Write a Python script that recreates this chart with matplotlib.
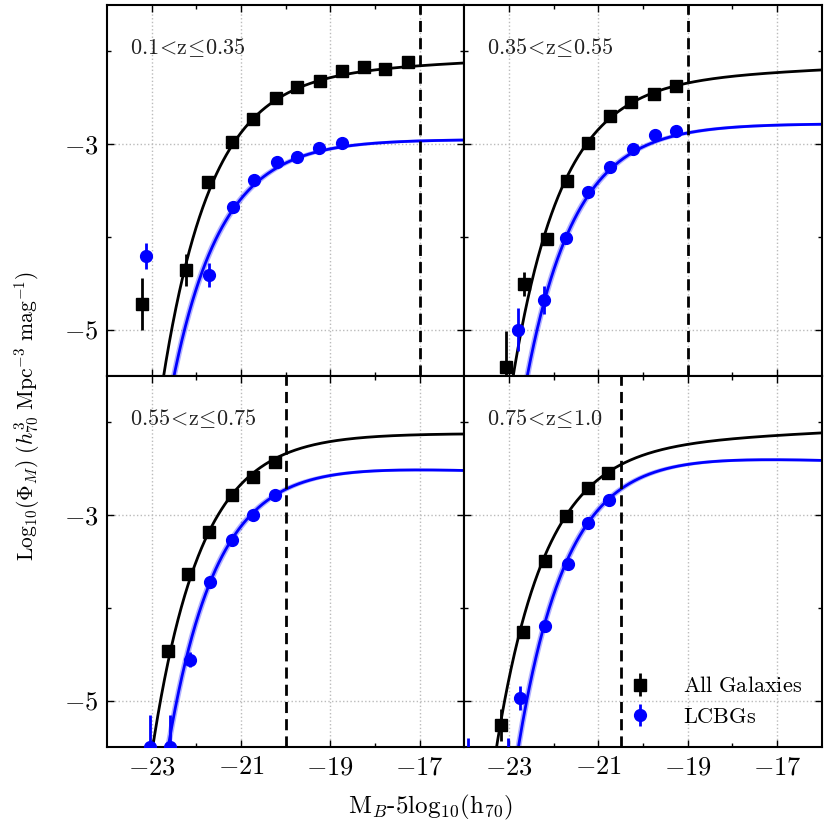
import numpy as np
import matplotlib
matplotlib.use('Agg')
import matplotlib.pyplot as plt

plt.rcParams['font.family'] = 'serif'
plt.rcParams['font.serif'] = ['cmr10', 'DejaVu Serif']
plt.rcParams['mathtext.fontset'] = 'cm'
plt.rcParams['axes.formatter.use_mathtext'] = True

# ---- data (M_B, log10 Phi, error) ----
# 0.1 < z <= 0.35
p1_all_mag = [-23.22, -22.23, -21.73, -21.21, -20.73, -20.21, -19.74, -19.24, -18.74, -18.25, -17.77, -17.26]
p1_all_phi = [-4.72, -4.36, -3.41, -2.98, -2.73, -2.50, -2.38, -2.32, -2.21, -2.17, -2.19, -2.11]
p1_all_err = [0.28, 0.17, 0.03, 0.03, 0.02, 0.02, 0.02, 0.02, 0.02, 0.02, 0.02, 0.02]
p1_lcbg_mag = [-23.13, -21.71, -21.19, -20.70, -20.19, -19.75, -19.26, -18.74]
p1_lcbg_phi = [-4.21, -4.41, -3.68, -3.39, -3.19, -3.14, -3.04, -2.99]
p1_lcbg_err = [0.14, 0.13, 0.05, 0.03, 0.03, 0.02, 0.02, 0.02]

# 0.35 < z <= 0.55
p2_all_mag = [-23.06, -22.66, -22.16, -21.71, -21.23, -20.74, -20.26, -19.75, -19.26]
p2_all_phi = [-5.40, -4.51, -4.02, -3.40, -2.99, -2.70, -2.55, -2.46, -2.37]
p2_all_err = [0.38, 0.13, 0.05, 0.03, 0.02, 0.02, 0.02, 0.02, 0.02]
p2_lcbg_mag = [-22.80, -22.22, -21.73, -21.23, -20.74, -20.23, -19.73, -19.27]
p2_lcbg_phi = [-5.00, -4.68, -4.01, -3.52, -3.25, -3.05, -2.90, -2.86]
p2_lcbg_err = [0.23, 0.15, 0.04, 0.03, 0.02, 0.02, 0.02, 0.02]

# 0.55 < z <= 0.75
p3_all_mag = [-22.63, -22.19, -21.71, -21.21, -20.74, -20.23]
p3_all_phi = [-4.46, -3.63, -3.18, -2.78, -2.59, -2.43]
p3_all_err = [0.05, 0.03, 0.02, 0.02, 0.02, 0.02]
p3_lcbg_mag = [-23.03, -22.60, -22.15, -21.69, -21.21, -20.74, -20.23]
p3_lcbg_phi = [-5.50, -5.50, -4.56, -3.72, -3.27, -3.00, -2.78]
p3_lcbg_err = [0.35, 0.35, 0.08, 0.03, 0.02, 0.02, 0.02]

# 0.75 < z <= 1.0
p4_all_mag = [-23.19, -22.69, -22.20, -21.73, -21.23, -20.78]
p4_all_phi = [-5.26, -4.26, -3.49, -3.01, -2.71, -2.55]
p4_all_err = [0.17, 0.05, 0.03, 0.02, 0.02, 0.02]
p4_lcbg_mag = [-23.93, -23.02, -22.76, -22.20, -21.68, -21.23, -20.76]
p4_lcbg_phi = [-5.80, -5.80, -4.97, -4.20, -3.53, -3.08, -2.84]
p4_lcbg_err = [0.40, 0.40, 0.13, 0.04, 0.03, 0.02, 0.02]

# Schechter fits: M*, alpha, log10 phi*
p1_all_fit = [-20.55, -1.05, -2.174]
p1_lcbg_fit = [-20.58, -1.00, -2.914]
p2_all_fit = [-20.75, -1.05, -2.254]
p2_lcbg_fit = [-20.60, -1.00, -2.744]
p3_all_fit = [-20.75, -1.00, -2.084]
p3_lcbg_fit = [-20.50, -0.96, -2.404]
p4_all_fit = [-21.10, -1.054, -2.184]
p4_lcbg_fit = [-20.62, -0.96, -2.294]

z_labels = [r'$\mathrm{0.1\!<\!z\!\leq\!0.35}$', r'$\mathrm{0.35\!<\!z\!\leq\!0.55}$',
            r'$\mathrm{0.55\!<\!z\!\leq\!0.75}$', r'$\mathrm{0.75\!<\!z\!\leq\!1.0}$']
mag_limits = [-17.0, -19.0, -20.0, -20.5]


def schechter_log(mag, mstar, alpha, logphi):
    """log10 of the Schechter function in magnitudes"""
    u = 0.4 * (mstar - mag)
    return (np.log10(0.4 * np.log(10)) + logphi + (alpha + 1) * u
            - 10 ** u / np.log(10))


panels = [
    (p1_all_mag, p1_all_phi, p1_all_err, p1_lcbg_mag, p1_lcbg_phi, p1_lcbg_err, p1_all_fit, p1_lcbg_fit),
    (p2_all_mag, p2_all_phi, p2_all_err, p2_lcbg_mag, p2_lcbg_phi, p2_lcbg_err, p2_all_fit, p2_lcbg_fit),
    (p3_all_mag, p3_all_phi, p3_all_err, p3_lcbg_mag, p3_lcbg_phi, p3_lcbg_err, p3_all_fit, p3_lcbg_fit),
    (p4_all_mag, p4_all_phi, p4_all_err, p4_lcbg_mag, p4_lcbg_phi, p4_lcbg_err, p4_all_fit, p4_lcbg_fit),
]

fig, axes = plt.subplots(2, 2, figsize=(8.3, 8.3), dpi=100, sharex=True, sharey=True)
fig.subplots_adjust(left=0.129, right=0.990, top=0.994, bottom=0.100, wspace=0, hspace=0)

mgrid = np.linspace(-24.5, -15.5, 600)

for i, ax in enumerate(axes.flat):
    a_mag, a_phi, a_err, l_mag, l_phi, l_err, a_fit, l_fit = panels[i]

    ax.grid(True, which='major', color='#bbbbbb', linestyle=':', linewidth=1.0, zorder=0)

    ax.plot(mgrid, schechter_log(mgrid, *a_fit), color='k', lw=2.0, zorder=2)
    # thin uncertainty band around the LCBG fit
    hi = schechter_log(mgrid, l_fit[0] - 0.06, l_fit[1], l_fit[2] + 0.015)
    lo = schechter_log(mgrid, l_fit[0] + 0.06, l_fit[1], l_fit[2] - 0.015)
    ax.fill_between(mgrid, lo, hi, color='#0000ff', alpha=0.3, lw=0, zorder=2)
    ax.plot(mgrid, schechter_log(mgrid, *l_fit), color='#0000ff', lw=2.0, zorder=2)

    ax.axvline(mag_limits[i], color='k', ls='--', lw=2.0, dashes=(4, 2.2), zorder=3)

    ax.errorbar(a_mag, a_phi, yerr=a_err, fmt='s', color='k', ms=8.5,
                elinewidth=2, capsize=0, label='$\\mathrm{All\\ Galaxies}$', zorder=4)
    ax.errorbar(l_mag, l_phi, yerr=l_err, fmt='o', color='#0000ff', ms=8.5,
                elinewidth=2, capsize=0, label='$\\mathrm{LCBGs}$', zorder=5)

    ax.text(0.064, 0.885, z_labels[i], transform=ax.transAxes, fontsize=16,
            ha='left', va='center', color='#222222')

    ax.set_xlim(-24, -16)
    ax.set_ylim(-5.5, -1.5)
    ax.set_xticks([-23, -21, -19, -17])
    ax.set_xticks([-22, -20, -18], minor=True)
    ax.set_yticks([-5, -3])
    ax.set_yticks([-4, -2], minor=True)
    ax.tick_params(which='both', direction='in', top=True, right=True, labelsize=19)
    ax.tick_params(which='major', length=5, width=1, pad=6)
    ax.tick_params(which='minor', length=3, width=1)
    for sp in ax.spines.values():
        sp.set_linewidth(1.5)

axes[1, 1].legend(loc='lower right', frameon=False, fontsize=16,
                  handletextpad=0.9, borderaxespad=0.5, labelspacing=0.5)

fig.text(0.519, 0.027, r'$\mathrm{M}_B\mathrm{\text{-}5log_{10}(h_{70})}$',
         ha='center', va='center', fontsize=18)
fig.text(0.033, 0.499, r'$\mathrm{Log_{10}}(\Phi_M)\ (h^3_{70}\ \mathrm{Mpc^{-3}\ mag^{-1}})$',
         ha='center', va='center', rotation=90, fontsize=15.5)

plt.savefig('out.png', dpi=100)
